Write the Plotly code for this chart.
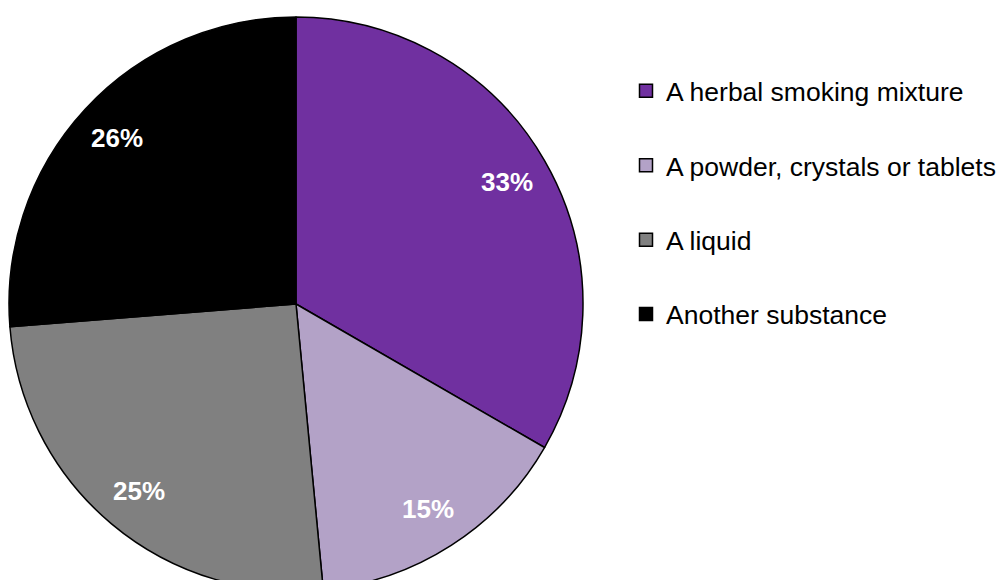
import math
import plotly.graph_objects as go

# Share of respondents by form of the substance (percent)
categories = [
    "A herbal smoking mixture",
    "A powder, crystals or tablets",
    "A liquid",
    "Another substance",
]
shares = [33, 15, 25, 26]
colors = ["#7030A0", "#B3A2C7", "#808080", "#000000"]

W, H = 1002, 620
cx, cy, R = 296, 304, 287   # pie centre / radius in pixels
LABEL_R = 0.85              # value labels sit at this fraction of the radius
FONT = "Liberation Sans, Arial, sans-serif"

fig = go.Figure()

fig.add_trace(go.Pie(
    labels=categories,
    values=shares,
    sort=False,
    direction="clockwise",
    rotation=0,
    marker=dict(colors=colors, line=dict(color="#000000", width=1.5)),
    textinfo="none",
    hoverinfo="skip",
    showlegend=False,
    domain=dict(x=[(cx - R) / W, (cx + R) / W],
                y=[1 - (cy + R) / H, 1 - (cy - R) / H]),
))

# Legend entries with square swatches
for cat, col in zip(categories, colors):
    fig.add_trace(go.Scatter(
        x=[None], y=[None], mode="markers", name=cat, legendgroup=cat,
        marker=dict(symbol="square", size=13, color=col,
                    line=dict(color="#000000", width=1.5)),
        hoverinfo="skip",
    ))

# Value labels positioned along each slice's mid-angle
total = sum(shares)
cum = 0
for v in shares:
    mid = (cum + v / 2) / total * 2 * math.pi
    cum += v
    px = cx + LABEL_R * R * math.sin(mid)
    py = cy - LABEL_R * R * math.cos(mid)
    fig.add_annotation(
        x=px / W, y=1 - py / H, xref="paper", yref="paper",
        text=f"<b>{v}%</b>", showarrow=False,
        font=dict(family=FONT, size=26, color="#FFFFFF"),
        xanchor="center", yanchor="middle",
    )

fig.update_layout(
    width=W, height=H,
    margin=dict(l=0, r=0, t=0, b=0),
    paper_bgcolor="#FFFFFF",
    plot_bgcolor="#FFFFFF",
    xaxis=dict(visible=False),
    yaxis=dict(visible=False),
    font=dict(family=FONT, size=26.5, color="#000000"),
    legend=dict(
        x=626 / W, y=1 - 67 / H, xanchor="left", yanchor="top",
        tracegroupgap=37, bgcolor="rgba(0,0,0,0)",
        font=dict(size=26.5),
    ),
)

fig.write_html(
    "out.html",
    post_script="document.body.style.margin='0';document.body.style.overflow='hidden';",
)
